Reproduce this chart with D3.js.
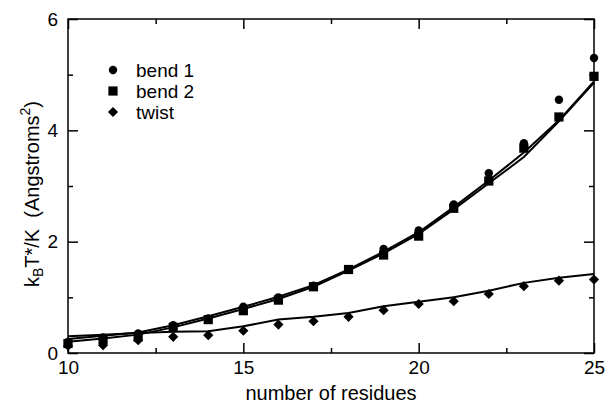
<!DOCTYPE html>
<html>
<head>
<meta charset="utf-8">
<script src="https://cdn.jsdelivr.net/npm/d3@7"></script>
<style>
  body { margin: 0; background: #fff; }
  svg { display: block; font-family: "Liberation Sans", Arial, Helvetica, sans-serif; }
</style>
</head>
<body>
<svg id="chart" width="608" height="407"></svg>
<script>
// residues on the x axis
const residues = [10, 11, 12, 13, 14, 15, 16, 17, 18, 19, 20, 21, 22, 23, 24, 25];

// measured points
const bend1 = [0.20, 0.28, 0.35, 0.50, 0.62, 0.83, 1.00, 1.21, 1.50, 1.87, 2.20, 2.67, 3.23, 3.77, 4.55, 5.30];
const bend2 = [0.17, 0.24, 0.29, 0.46, 0.60, 0.76, 0.95, 1.19, 1.50, 1.76, 2.10, 2.60, 3.09, 3.68, 4.24, 4.97];
const twist = [0.13, 0.14, 0.23, 0.29, 0.32, 0.40, 0.51, 0.57, 0.65, 0.77, 0.88, 0.93, 1.06, 1.20, 1.30, 1.32];

// fitted curves
const fit1 = [0.25, 0.31, 0.37, 0.50, 0.66, 0.83, 1.01, 1.22, 1.50, 1.82, 2.17, 2.62, 3.10, 3.60, 4.18, 4.88];
const fit2 = [0.20, 0.26, 0.33, 0.46, 0.62, 0.79, 0.97, 1.19, 1.48, 1.79, 2.14, 2.58, 3.05, 3.52, 4.16, 4.86];
const fitTwist = [0.30, 0.33, 0.36, 0.38, 0.39, 0.48, 0.60, 0.65, 0.72, 0.84, 0.92, 1.00, 1.12, 1.26, 1.35, 1.42];

const xTicks = [10, 15, 20, 25];
const yTicks = [0, 2, 4, 6];
const legendNames = ["bend 1", "bend 2", "twist"];

const svg = d3.select("#chart");
const mLeft = 68, mRight = 594, mTop = 19, mBottom = 353;

const x = d3.scaleLinear().domain([10, 25]).range([mLeft, mRight]);
const y = d3.scaleLinear().domain([0, 6]).range([mBottom, mTop]);

// lines first, markers over them
const line = d3.line().x((d, i) => x(residues[i])).y(d => y(d));
[fit1, fit2, fitTwist].forEach(f => {
  svg.append("path")
    .attr("d", line(f))
    .attr("fill", "none")
    .attr("stroke", "#000")
    .attr("stroke-width", 2);
});

const circle = d3.symbol().type(d3.symbolCircle).size(55);
const square = d3.symbol().type(d3.symbolSquare).size(85);
const diamond = d3.symbol().type(d3.symbolSquare).size(52); // drawn rotated 45deg
const shapes = [circle, square, diamond];
const rot = [0, 0, 45];

[bend1, bend2, twist].forEach((s, k) => {
  svg.append("g").selectAll("path")
    .data(s)
    .enter()
    .append("path")
    .attr("transform", (d, i) => `translate(${x(residues[i])},${y(d)}) rotate(${rot[k]})`)
    .attr("d", shapes[k]())
    .attr("fill", "#000");
});

// frame
svg.append("rect")
  .attr("x", mLeft).attr("y", mTop)
  .attr("width", mRight - mLeft).attr("height", mBottom - mTop)
  .attr("fill", "none").attr("stroke", "#000").attr("stroke-width", 1.5);

// ticks, inward on all four sides
function tickStyle(g) {
  g.select(".domain").remove();
  g.selectAll("line").attr("stroke", "#000").attr("stroke-width", 1.5);
  g.selectAll("text").attr("font-size", 19).attr("fill", "#000").attr("font-family", "Liberation Sans, Arial, sans-serif");
}
const xMinor = [12.5, 17.5, 22.5];
const yMinor = [1, 3, 5];

svg.append("g").attr("transform", `translate(0,${mBottom})`)
  .call(d3.axisBottom(x).tickValues(xTicks).tickSize(-10).tickPadding(8).tickFormat(d3.format("d")))
  .call(tickStyle);
svg.append("g").attr("transform", `translate(0,${mBottom})`)
  .call(d3.axisBottom(x).tickValues(xMinor).tickSize(-5).tickFormat(""))
  .call(tickStyle);
svg.append("g").attr("transform", `translate(0,${mTop})`)
  .call(d3.axisTop(x).tickValues(xTicks).tickSize(-10).tickFormat(""))
  .call(tickStyle);
svg.append("g").attr("transform", `translate(0,${mTop})`)
  .call(d3.axisTop(x).tickValues(xMinor).tickSize(-5).tickFormat(""))
  .call(tickStyle);

svg.append("g").attr("transform", `translate(${mLeft},0)`)
  .call(d3.axisLeft(y).tickValues(yTicks).tickSize(-10).tickPadding(10).tickFormat(d3.format("d")))
  .call(tickStyle);
svg.append("g").attr("transform", `translate(${mLeft},0)`)
  .call(d3.axisLeft(y).tickValues(yMinor).tickSize(-5).tickFormat(""))
  .call(tickStyle);
svg.append("g").attr("transform", `translate(${mRight},0)`)
  .call(d3.axisRight(y).tickValues(yTicks).tickSize(-10).tickFormat(""))
  .call(tickStyle);
svg.append("g").attr("transform", `translate(${mRight},0)`)
  .call(d3.axisRight(y).tickValues(yMinor).tickSize(-5).tickFormat(""))
  .call(tickStyle);

// axis titles
svg.append("text")
  .attr("x", (mLeft + mRight) / 2).attr("y", 400)
  .attr("text-anchor", "middle").attr("font-size", 20)
  .text("number of residues");

const yt = svg.append("text")
  .attr("transform", `translate(39,194) rotate(-90)`)
  .attr("text-anchor", "middle").attr("font-size", 20);
yt.append("tspan").text("k");
yt.append("tspan").attr("font-size", 14).attr("dy", 4).text("B");
yt.append("tspan").attr("dy", -4).text("T*/K\u00a0\u00a0(Angstroms");
yt.append("tspan").attr("font-size", 14).attr("dy", -9).text("2");
yt.append("tspan").attr("dy", 9).text(")");

// legend
const lg = svg.append("g");
legendNames.forEach((n, k) => {
  const ly = 70 + k * 21;
  lg.append("path")
    .attr("transform", `translate(113,${ly}) rotate(${rot[k]})`)
    .attr("d", shapes[k]())
    .attr("fill", "#000");
  lg.append("text")
    .attr("x", 136).attr("y", ly + 7)
    .attr("font-size", 19)
    .text(n);
});
</script>
</body>
</html>
